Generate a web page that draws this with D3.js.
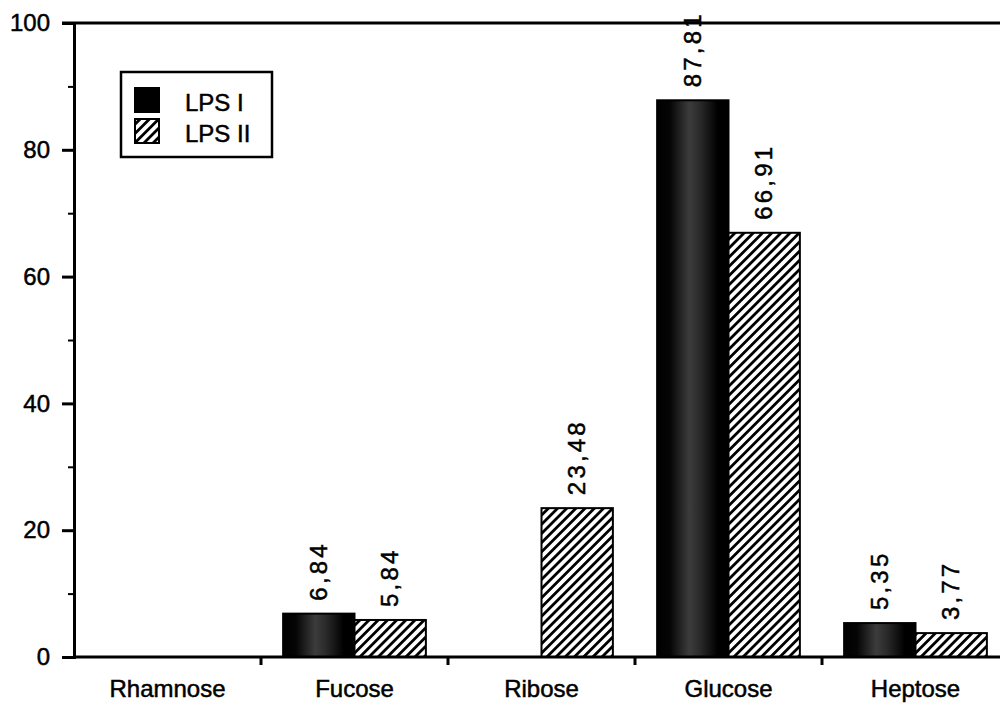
<!DOCTYPE html>
<html><head><meta charset="utf-8">
<script src="https://cdn.jsdelivr.net/npm/d3@7"></script>
<style>body{margin:0;background:#fff}svg{display:block}text{font-family:"Liberation Sans",Arial,Helvetica,sans-serif;fill:#000;stroke:#000;stroke-width:0.5px}</style>
</head><body><svg id="c" width="1000" height="704"></svg>
<script>
const categories = ["Rhamnose","Fucose","Ribose","Glucose","Heptose"];
const seriesNames = ["LPS I","LPS II"];
const lps1 = [0, 6.84, 0, 87.81, 5.35];
const lps2 = [0, 5.84, 23.48, 66.91, 3.77];
const labels1 = [null, "6,84", null, "87,81", "5,35"];
const labels2 = [null, "5,84", "23,48", "66,91", "3,77"];
const yTicks = [0,20,40,60,80,100];

const FS = 24;
const svg = d3.select("#c");
const m = {l:74, t:23, r:-9, b:47};
const W = 1000, H = 704;
const x = d3.scaleBand().domain(categories).range([m.l, W - m.r]).paddingInner(0).paddingOuter(0);
const y = d3.scaleLinear().domain([0,100]).range([H - m.b, m.t]);
const x1 = d3.scaleBand().domain(seriesNames).range([0, x.bandwidth()]).paddingOuter(0.31).paddingInner(0);

const defs = svg.append("defs");
const g1 = defs.append("linearGradient").attr("id","g1").attr("x1","0").attr("x2","1").attr("y1","0").attr("y2","0");
[[0,"#000"],[0.18,"#050505"],[0.45,"#3c3c3c"],[0.6,"#2a2a2a"],[0.85,"#000"],[1,"#000"]].forEach(([o,c])=>g1.append("stop").attr("offset",o).attr("stop-color",c));
const hp = defs.append("pattern").attr("id","hatch").attr("patternUnits","userSpaceOnUse").attr("width",6.5).attr("height",6.5).attr("patternTransform","rotate(45)");
hp.append("rect").attr("width",6.5).attr("height",6.5).attr("fill","#fff");
hp.append("rect").attr("x",0).attr("width",2.8).attr("height",6.5).attr("fill","#000");

const data = categories.map((c,i)=>({c, vals:[{s:"LPS I",v:lps1[i],lab:labels1[i]},{s:"LPS II",v:lps2[i],lab:labels2[i]}]}));
const grp = svg.append("g").selectAll("g").data(data).join("g").attr("transform",d=>`translate(${x(d.c)},0)`);
grp.selectAll("rect").data(d=>d.vals.filter(v=>v.v>0)).join("rect")
  .attr("x",d=>x1(d.s)).attr("width",x1.bandwidth())
  .attr("y",d=>y(d.v)).attr("height",d=>y(0)-y(d.v))
  .attr("fill",d=>d.s==="LPS I"?"url(#g1)":"url(#hatch)")
  .attr("stroke","#000").attr("stroke-width",2);
grp.selectAll("text").data(d=>d.vals.filter(v=>v.lab)).join("text")
  .attr("transform",d=>`translate(${x1(d.s)+x1.bandwidth()/2+8},${y(d.v)-13}) rotate(-90)`)
  .attr("font-size",FS).attr("letter-spacing",3.2).text(d=>d.lab);

// y axis
const ya = svg.append("g").attr("transform",`translate(${m.l},0)`)
  .call(d3.axisLeft(y).tickValues(yTicks).tickSize(12).tickPadding(12).tickFormat(d3.format("d")));
ya.select(".domain").attr("stroke-width",3);
ya.selectAll(".tick line").attr("stroke-width",3);
ya.selectAll(".tick text").attr("font-size",FS).attr("font-family","Liberation Sans, Arial, sans-serif").attr("fill","#000");
svg.append("g").attr("transform",`translate(${m.l},0)`)
  .call(d3.axisLeft(y).tickValues([10,30,50,70,90]).tickSize(6).tickFormat(""))
  .call(g=>{g.select(".domain").remove();g.selectAll("line").attr("stroke-width",2);});

// top frame line
svg.append("line").attr("x1",m.l-12).attr("x2",W).attr("y1",y(100)).attr("y2",y(100)).attr("stroke","#000").attr("stroke-width",3);

// x axis
const xa = svg.append("g").attr("transform",`translate(0,${y(0)})`)
  .call(d3.axisBottom(x).tickSize(0).tickPadding(23));
xa.select(".domain").attr("stroke-width",3).attr("d",`M${m.l},0H${W}`);
xa.selectAll(".tick text").attr("font-size",FS).attr("font-family","Liberation Sans, Arial, sans-serif").attr("fill","#000");
categories.slice(1).forEach(c=>{
  svg.append("line").attr("x1",x(c)).attr("x2",x(c)).attr("y1",y(0)).attr("y2",y(0)+8).attr("stroke","#000").attr("stroke-width",3);
});

// legend
const lg = svg.append("g").attr("transform","translate(121,72)");
lg.append("rect").attr("width",151).attr("height",85).attr("fill","#fff").attr("stroke","#000").attr("stroke-width",2.5);
seriesNames.forEach((s,i)=>{
  lg.append("rect").attr("x",14).attr("y",16+i*31).attr("width",24).attr("height",24)
    .attr("fill",i===0?"#000":"url(#hatch)").attr("stroke","#000").attr("stroke-width",2);
  lg.append("text").attr("x",64).attr("y",39+i*31).attr("font-size",FS).text(s);
});
</script></body></html>
